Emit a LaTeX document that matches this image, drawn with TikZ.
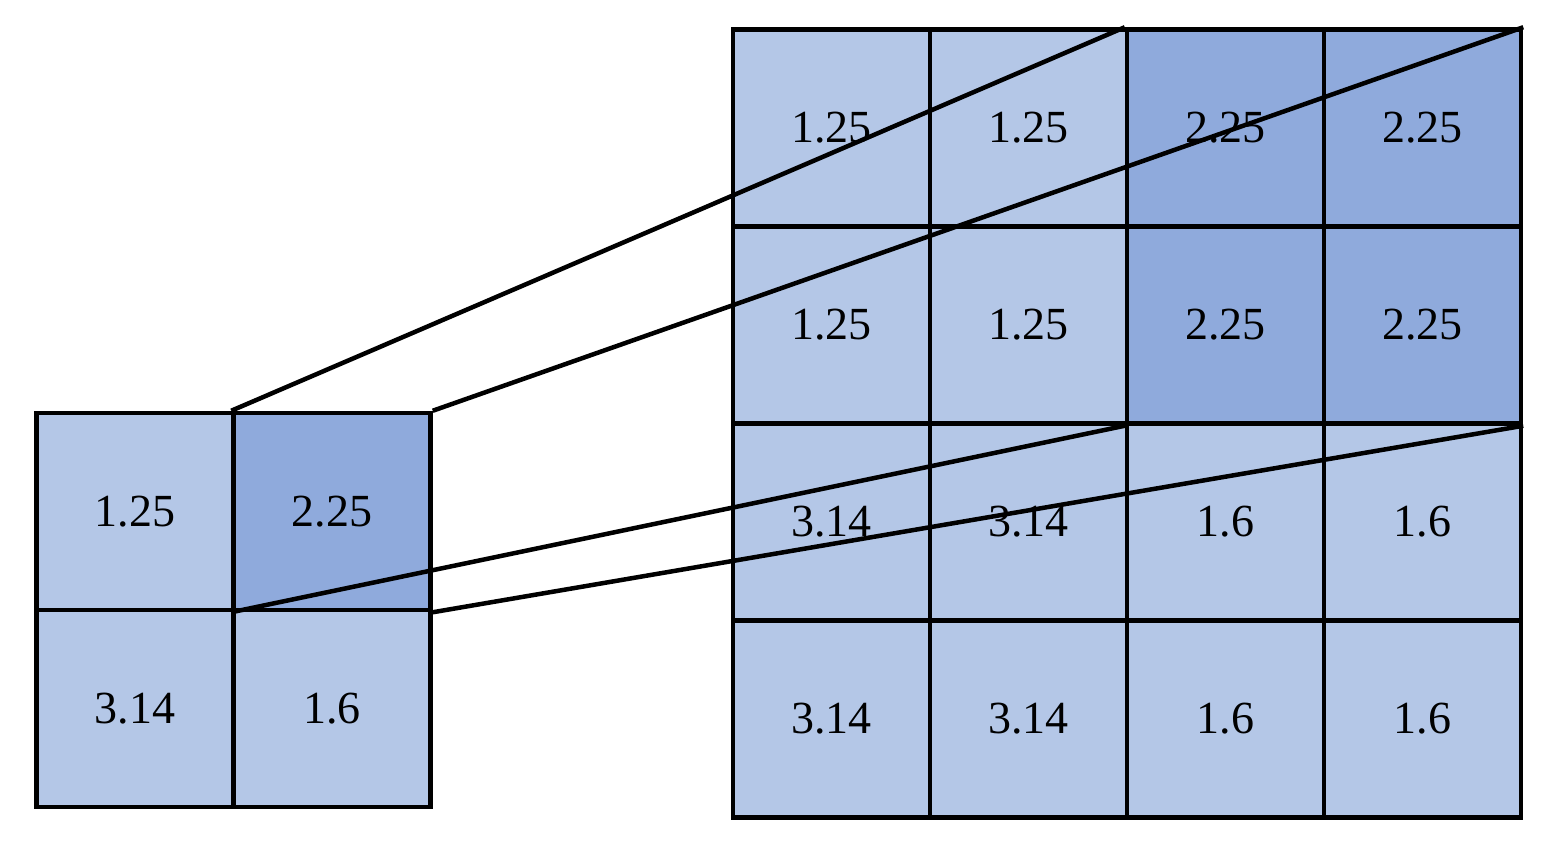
\documentclass[tikz,border=0pt]{standalone}
\usepackage{fontspec}
\setmainfont{Liberation Serif}
\definecolor{lightcell}{HTML}{B4C7E7}
\definecolor{darkcell}{HTML}{8FAADC}
\begin{document}
\begin{tikzpicture}[x=1pt,y=-1pt,
  cell/.style={draw=black,line width=4.5pt,minimum size=197pt,inner sep=0pt,
    font=\fontsize{46}{50}\selectfont},
  lc/.style={cell,fill=lightcell},
  dc/.style={cell,fill=darkcell},
  link/.style={draw=black,line width=4.5pt}]
\useasboundingbox (0,0) rectangle (1566,846);
% small grid
\node[lc] (s11) at (135,511.5) {1.25};
\node[dc] (s12) at (332,511.5) {2.25};
\node[lc] (s21) at (135,708.5) {3.14};
\node[lc] (s22) at (332,708.5) {1.6};
% large grid
\node[lc] (L11) at (831.5,128) {1.25};
\node[lc] (L12) at (1028.5,128) {1.25};
\node[dc] (L13) at (1225.5,128) {2.25};
\node[dc] (L14) at (1422.5,128) {2.25};
\node[lc] (L21) at (831.5,325) {1.25};
\node[lc] (L22) at (1028.5,325) {1.25};
\node[dc] (L23) at (1225.5,325) {2.25};
\node[dc] (L24) at (1422.5,325) {2.25};
\node[lc] (L31) at (831.5,522) {3.14};
\node[lc] (L32) at (1028.5,522) {3.14};
\node[lc] (L33) at (1225.5,522) {1.6};
\node[lc] (L34) at (1422.5,522) {1.6};
\node[lc] (L41) at (831.5,719) {3.14};
\node[lc] (L42) at (1028.5,719) {3.14};
\node[lc] (L43) at (1225.5,719) {1.6};
\node[lc] (L44) at (1422.5,719) {1.6};
% connectors
\draw[link] (s12.north west) -- (L13.north west);
\draw[link] (s12.north east) -- (L14.north east);
\draw[link] (s12.south west) -- (L23.south west);
\draw[link] (s12.south east) -- (L24.south east);
\end{tikzpicture}
\end{document}
